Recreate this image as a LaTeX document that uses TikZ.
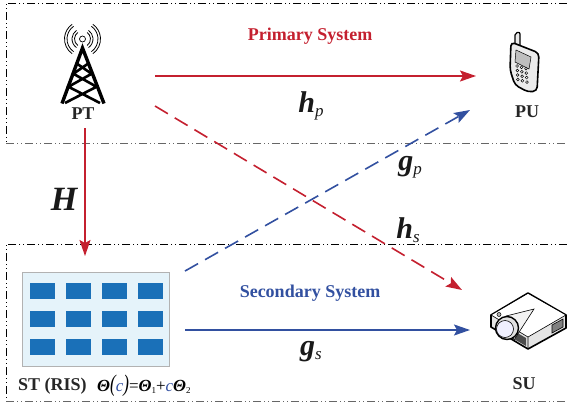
\documentclass[tikz,border=0pt]{standalone}
\usepackage{fontspec}
\setmainfont{Liberation Serif}
\usepackage{xcolor}
\usetikzlibrary{arrows.meta}
\definecolor{redline}{RGB}{196,32,47}
\definecolor{blueline}{RGB}{50,80,160}
\definecolor{cellblue}{RGB}{26,112,184}
\definecolor{panelblue}{RGB}{229,243,250}
\begin{document}
\begin{tikzpicture}[
          x=1pt, y=-1pt,
          every node/.style={align=center, inner sep=0pt},
          label/.style={font=\fontsize{18}{20}\selectfont\bfseries, text=black!85},
          title/.style={font=\fontsize{18}{20}\selectfont\bfseries},
          sym/.style={font=\fontsize{30}{32}\selectfont\bfseries\itshape, text=black!90},
          arrow/.style={-{Stealth[length=16pt,width=11pt,inset=3pt]}, line width=1.6pt},
          dashline/.style={dash pattern=on 15pt off 8pt},
          region/.style={line width=1pt, dash pattern=on 8pt off 3pt on 1pt off 3pt on 1pt off 3pt}
        ]
          \useasboundingbox (0,0) rectangle (567,407);

          % Dashed regions
          \draw[region, black] (567,3) -- (6,3) -- (6,143);
          \draw[region, black!60] (6,143) -- (567,143);
          \draw[region, black] (567,244) -- (6,244) -- (6,401);
          \draw[region, black!60] (6,401) -- (567,401);

          % Tower
          \draw[line width=3.4pt, line join=miter] (62,103.5) -- (82.5,48) -- (104,103.5);
          \draw[line width=2.6pt] (67,86) -- (100,103) (98,86) -- (65,103)
            (72,73) -- (97,87) (93,73) -- (68,87) (76,63) -- (92,74) (89,63) -- (73,74);
          \draw[line width=0.7pt] (82.5,39) circle (3);
          \foreach \r in {8,10.5,15.5,18} {
            \draw[line width=0.8pt] (82.5,39) ++(125:\r) arc (125:235:\r);
            \draw[line width=0.8pt] (82.5,39) ++(55:\r) arc (55:-55:\r);
          }

          % Phone
          \draw[line width=1.2pt, fill=black!8, rounded corners=2pt] (515,45) -- (515,33) -- (520,32) -- (520,45);
          \draw[line width=1.6pt, fill=black!8, rounded corners=4pt]
            (511,42) -- (539,53) -- (537,91) -- (528,92) -- (515,85) -- (510,70) -- cycle;
          \draw[line width=0.5pt, fill=black!25] (516,50) -- (531,57) -- (529,69) -- (515,62) -- cycle;
          \foreach \i in {0,1,2} \foreach \j in {0,1,2,3}
            \draw[line width=0.5pt, fill=white] (517+4.5*\i+0.3*\j,66+4.5*\j+1.3*\i) circle (1.4);

          % Projector
          \draw[line width=1.6pt, fill=black!10, line join=round]
            (528,293) -- (566,315) -- (566,328) -- (528,349) -- (491,327) -- (491,315) -- cycle;
          \fill[white] (528,294) -- (565,315) -- (528,337) -- (492,315) -- cycle;
          \draw[line width=0.6pt] (491,315) -- (528,337) -- (566,315) (528,337) -- (528,349);
          \draw[line width=0.6pt, fill=black!50] (552,325) -- (563,319) -- (563,327) -- (552,333) -- cycle;
          \fill[black!70] (514,331) -- (526,338) -- (526,346) -- (514,339) -- cycle;
          \draw[line width=0.6pt, fill=black!5] (534,309) -- (506,316) -- (514,340) -- cycle;
          \draw[line width=1.4pt, fill=black!12] (507,328) circle (11.5);
          \draw[line width=0.6pt, fill=blue!6] (505,329) circle (8.5);
          \draw[line width=0.5pt, fill=black!30] (499,314.5) circle (2);

          % RIS panel
          \draw[line width=0.8pt, draw=black!30, fill=panelblue] (22.5,272.5) rectangle (169,366.5);
          \foreach \cx in {30,66,102,138} \foreach \cy in {283,311,339}
            \fill[cellblue] (\cx,\cy) rectangle ++(24.5,16);

          % Labels
          \node[label] (pt) at (83,114) {PT};
          \node[label] (pu) at (527,112) {PU};
          \node[label] (su) at (524,384) {SU};
          \node[label, anchor=west] (st) at (18,386) {ST (RIS)};
          \node[anchor=west, font=\fontsize{17}{20}\selectfont\itshape] (form) at (97,386)
            {\textbf{Θ}\scalebox{1}[1.4]{(}\textcolor{blueline}{c}\scalebox{1}[1.4]{)}{\upshape =}\textbf{Θ}\raisebox{-2pt}{\fontsize{9}{9}\selectfont\upshape 1}{\upshape +}\textcolor{blueline}{c}\textbf{Θ}\raisebox{-2pt}{\fontsize{9}{9}\selectfont\upshape 2}};
          \node[title, text=redline] (primary) at (310,36) {Primary System};
          \node[title, text=blueline] (secondary) at (310,293) {Secondary System};
          \node[sym] (hp) at (311,106) {h\raisebox{-4pt}{\fontsize{17}{17}\selectfont\mdseries p}};
          \node[sym] (gp) at (410,167) {g\raisebox{-4pt}{\fontsize{17}{17}\selectfont\mdseries p}};
          \node[sym] (hs) at (408,230) {h\raisebox{-4pt}{\fontsize{17}{17}\selectfont\mdseries s}};
          \node[sym] (gs) at (311,352) {g\raisebox{-4pt}{\fontsize{17}{17}\selectfont\mdseries s}};
          \node[sym, font=\fontsize{34}{36}\selectfont\bfseries\itshape] (chan) at (64,199) {H};

          % Connector ends
          \coordinate (ptout) at (155,76);
          \coordinate (puin) at (476,76);
          \coordinate (ptcross) at (155,106);
          \coordinate (suin) at (462,290);
          \coordinate (ptdown) at (85,128);
          \coordinate (risin) at (85,256);
          \coordinate (riscross) at (185,271);
          \coordinate (pucross) at (470,110);
          \coordinate (risout) at (185,330);
          \coordinate (suflat) at (470,330);

          % Arrows
          \draw[arrow, redline] (ptout) -- (puin);
          \draw[arrow, redline, dashline] (ptcross) -- (suin);
          \draw[arrow, redline] (ptdown) -- (risin);
          \draw[arrow, blueline, dashline] (riscross) -- (pucross);
          \draw[arrow, blueline] (risout) -- (suflat);
        \end{tikzpicture}
\end{document}
